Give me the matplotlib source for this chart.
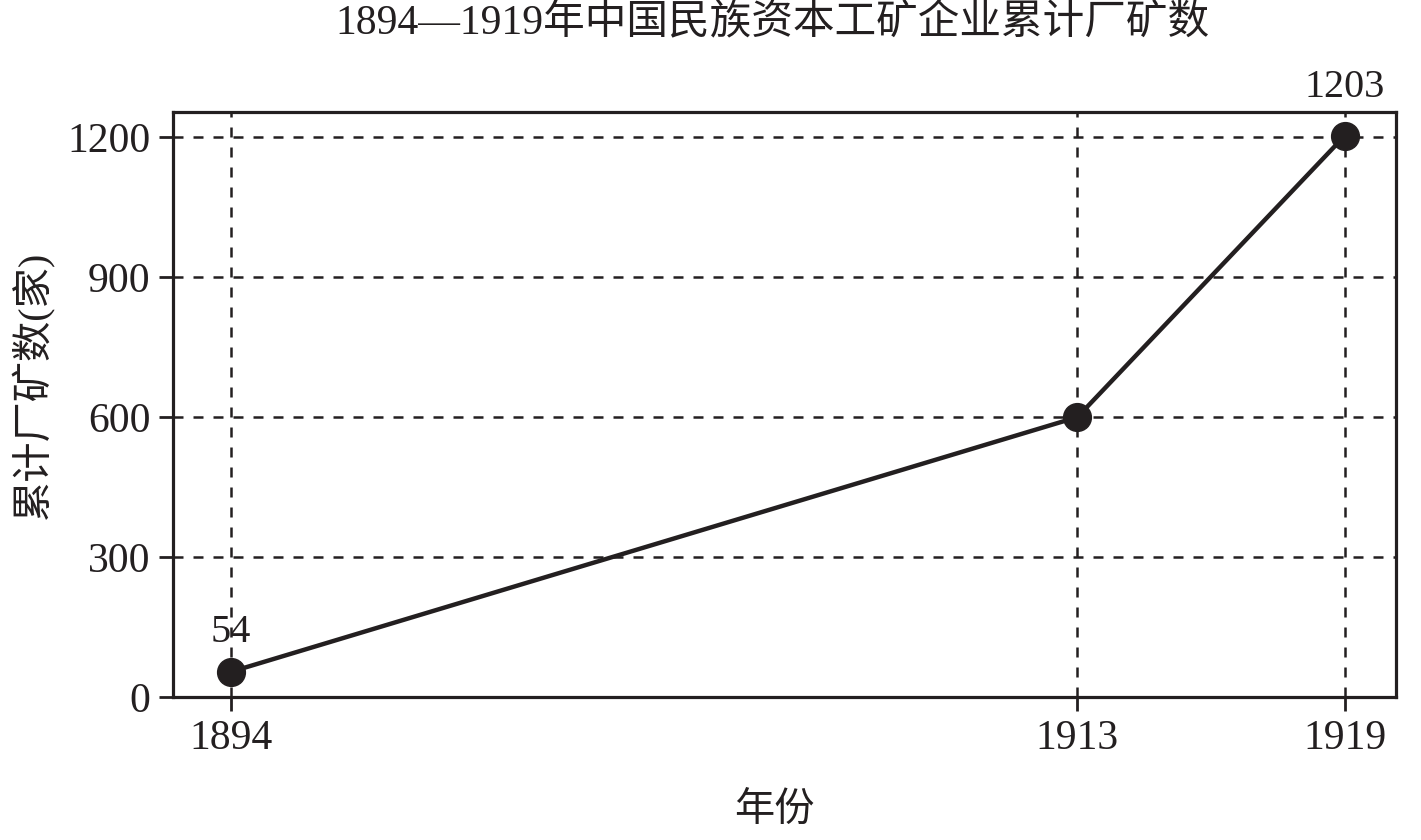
import matplotlib
matplotlib.use("Agg")
import matplotlib.pyplot as plt

# data
years = [1894, 1913, 1919]
counts = [54, 600, 1203]
yticks = [0, 300, 600, 900, 1200]
labelled = {1894: "54", 1919: "1203"}

ink = "#231f20"
plt.rcParams['font.family'] = ['Liberation Serif', 'Noto Sans CJK SC']

fig = plt.figure(figsize=(14.21, 8.4), dpi=100)
ax = fig.add_axes([0.1217, 0.1702, 0.8607, 0.6965])

ax.plot(years, counts, color=ink, lw=3.2, marker="o", markersize=20,
        markerfacecolor=ink, markeredgecolor=ink, zorder=3)

# value labels above the end points
for x, y in zip(years, counts):
    if x in labelled:
        off = 28 if x == 1894 else 35
        ax.annotate(labelled[x], (x, y), xytext=(0, off), textcoords="offset points",
                    ha="center", va="center", fontsize=29, color=ink)

ax.set_xlim(1892.7, 1920.15)
ax.set_ylim(0, 1254)
ax.set_xticks(years)
ax.set_yticks(yticks)
ax.grid(True, color=ink, linestyle=(0, (4, 4)), lw=1.8)
ax.set_axisbelow(True)

for s in ax.spines.values():
    s.set_linewidth(2.3)
    s.set_color(ink)
ax.tick_params(axis="both", direction="out", length=10, width=2, color=ink,
               labelsize=30, labelcolor=ink, pad=6)

ax.set_title("1894—1919年中国民族资本工矿企业累计厂矿数", fontsize=30, color=ink,
             pad=56, x=0.4905)
ax.set_xlabel("年份", fontsize=29, color=ink, labelpad=25)
ax.xaxis.label.set_x(0.492)
ax.set_ylabel("累计厂矿数(家)", fontsize=29, color=ink)
ax.yaxis.set_label_coords(-0.097, 0.533)

fig.savefig("out.png", dpi=100)
